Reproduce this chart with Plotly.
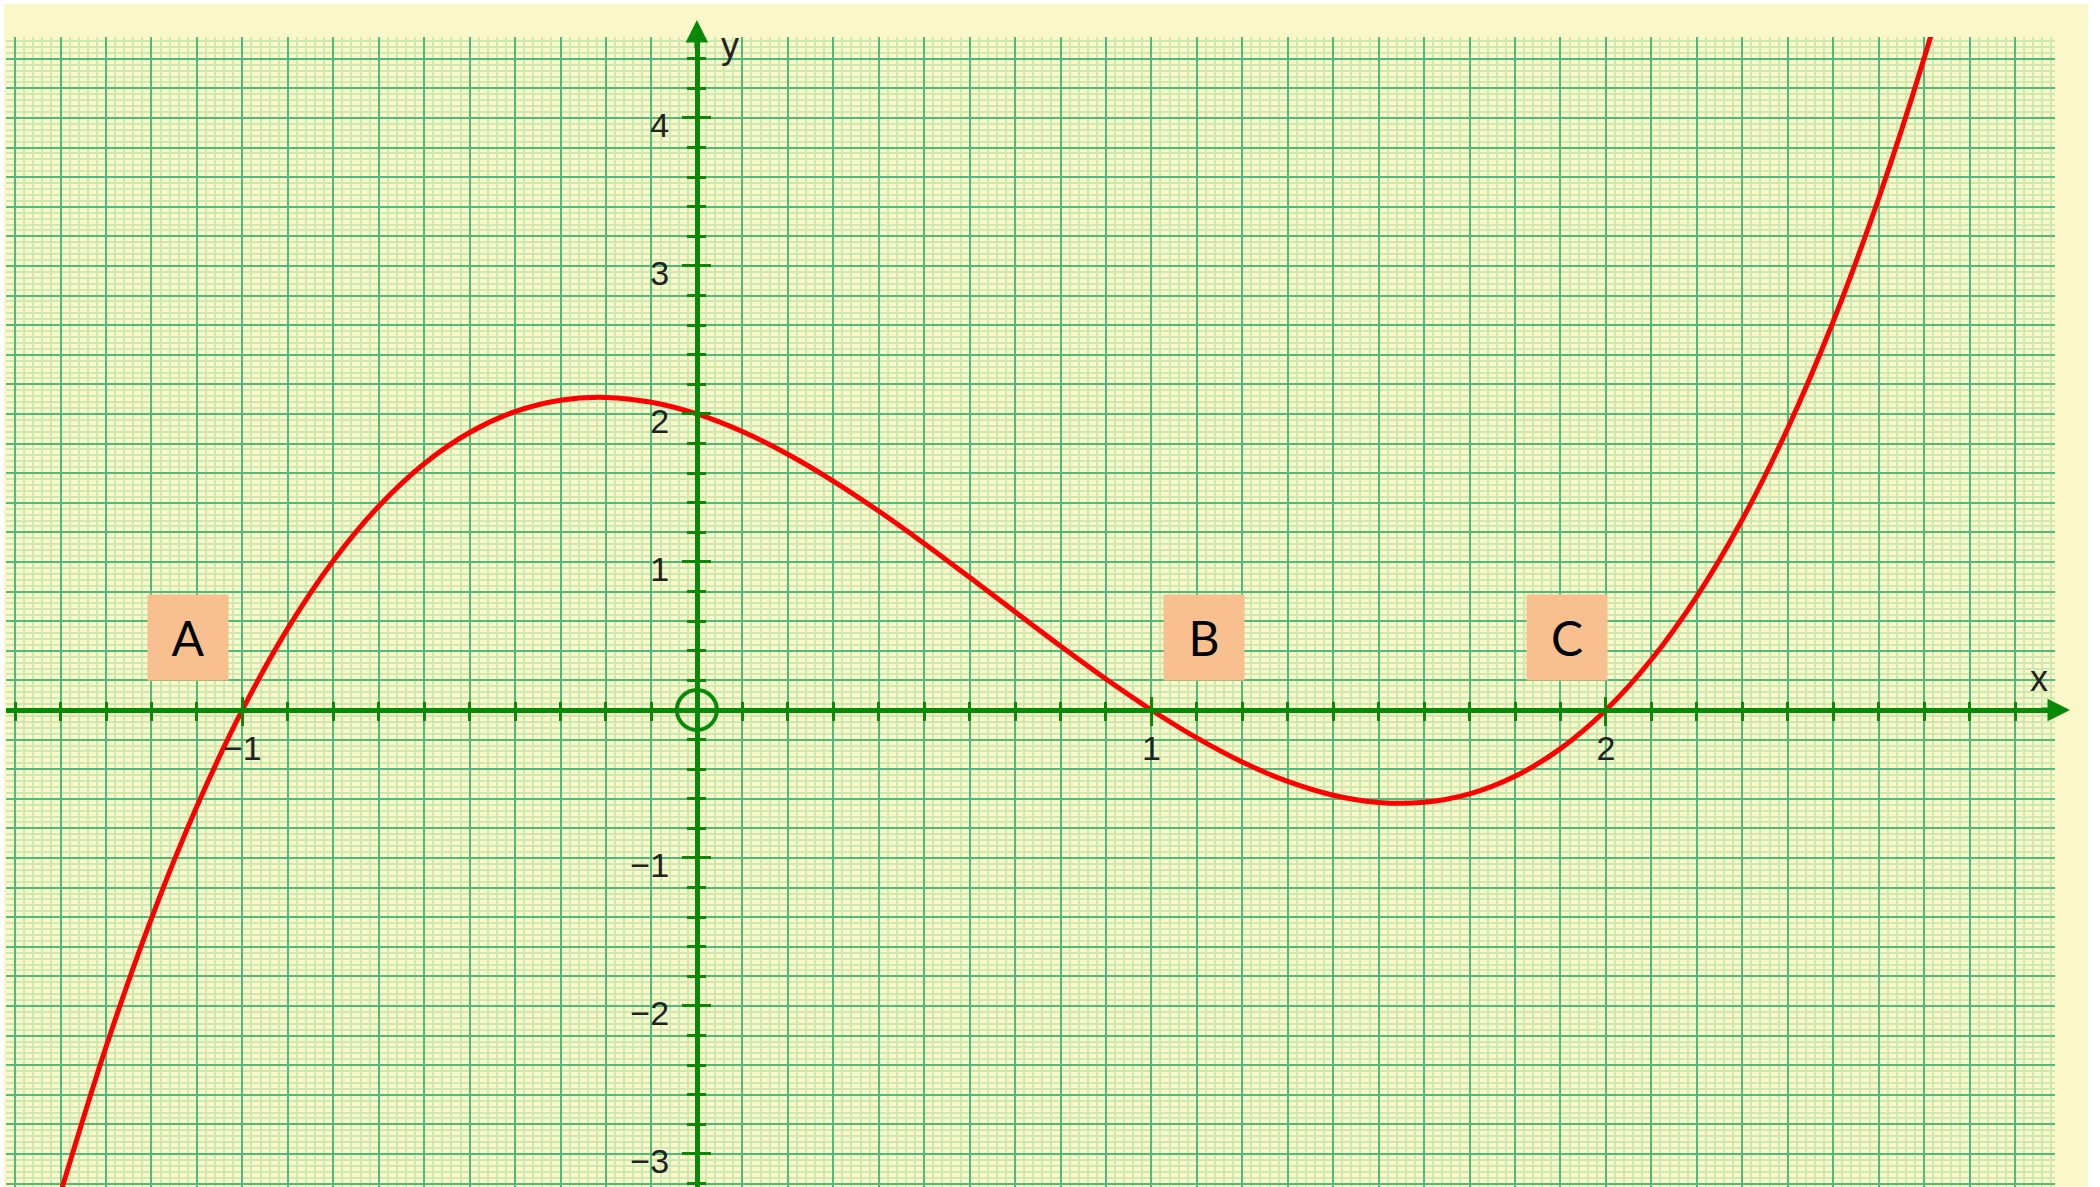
import plotly.graph_objects as go

# ── Data ──────────────────────────────────────────────────────────────────────
curve_x = [-1.4, -1.3, -1.2, -1.1, -1.0, -0.9, -0.8, -0.7, -0.6, -0.5, -0.4,
           -0.3, -0.2, -0.1, 0.0, 0.1, 0.2, 0.3, 0.4, 0.5, 0.6, 0.7, 0.8,
           0.9, 1.0, 1.1, 1.2, 1.3, 1.4, 1.5, 1.6, 1.7, 1.8, 1.9, 2.0,
           2.1, 2.2, 2.3, 2.4, 2.5, 2.6, 2.7, 2.8]
curve_y = [-3.264, -2.277, -1.408, -0.651, 0.0, 0.551, 1.008, 1.377, 1.664, 1.875, 2.016,
           2.093, 2.112, 2.079, 2.0, 1.881, 1.728, 1.547, 1.344, 1.125, 0.896, 0.663, 0.432,
           0.209, 0.0, -0.189, -0.352, -0.483, -0.576, -0.625, -0.624, -0.567, -0.448, -0.261, 0.0,
           0.341, 0.768, 1.287, 1.904, 2.625, 3.456, 4.403, 5.472]

origin_x = [0]
origin_y = [0]

point_names = ['A', 'B', 'C']
point_label_x = [-1.12, 1.115, 1.915]
point_label_y = [0.49, 0.49, 0.49]

x_range = [-1.520, 2.988]
y_range = [-3.223, 4.547]

# ── Styling ───────────────────────────────────────────────────────────────────
BG = '#faf8c8'
GRID = '#4dbb7a'
MINOR = '#cde8b0'
AXIS = '#088a08'
TXT = '#222222'
FONT = 'Liberation Sans, Arial, sans-serif'

W, H = 2100, 1187
M = dict(l=6, r=45, t=37, b=0)
pw = W - M['l'] - M['r']
ph = H - M['t'] - M['b']

# paper fraction where the zero lines sit
px0 = (0 - x_range[0]) / (x_range[1] - x_range[0])
py0 = (0 - y_range[0]) / (y_range[1] - y_range[0])

fig = go.Figure()

fig.add_trace(go.Scatter(
    x=curve_x, y=curve_y, mode='lines',
    line=dict(color='#ff0000', width=5, shape='spline', smoothing=1.0),
    showlegend=False, hoverinfo='skip',
))

fig.add_trace(go.Scatter(
    x=origin_x, y=origin_y, mode='markers',
    marker=dict(size=40, color=AXIS, symbol='circle-open',
                line=dict(color=AXIS, width=4)),
    showlegend=False, hoverinfo='skip',
))

# dummy traces so the overlay (axis-through-origin) axes are drawn
for xa, ya in [('x2', 'y'), ('x3', 'y'), ('x', 'y2'), ('x', 'y3')]:
    fig.add_trace(go.Scatter(x=[None], y=[None], xaxis=xa, yaxis=ya,
                             showlegend=False, hoverinfo='skip'))

grid_common = dict(showticklabels=False, ticks='', zeroline=False,
                   showline=False, showgrid=True, gridcolor=GRID, gridwidth=2)

tick_common = dict(tickmode='linear', tick0=0, dtick=1,
                   tickwidth=3, tickcolor=AXIS, ticklen=13,
                   showgrid=False, zeroline=False,
                   tickfont=dict(family=FONT, size=34, color=TXT),
                   labelalias={'0': ''})

fig.update_layout(
    width=W, height=H, margin=M,
    paper_bgcolor='white', plot_bgcolor=BG,
    xaxis=dict(range=x_range, tick0=0, dtick=0.1,
               minor=dict(dtick=0.02, showgrid=True, gridcolor=MINOR, gridwidth=2),
               **grid_common),
    yaxis=dict(range=y_range, tick0=0, dtick=0.2,
               minor=dict(dtick=0.04, showgrid=True, gridcolor=MINOR, gridwidth=2),
               **grid_common),
    xaxis2=dict(range=x_range, overlaying='x', anchor='free', position=py0,
                side='bottom', showline=True, linecolor=AXIS, linewidth=5,
                ticks='outside', ticklabelstandoff=-7,
                minor=dict(ticks='outside', dtick=0.1, tick0=0, ticklen=8,
                           tickwidth=3, tickcolor=AXIS),
                **tick_common),
    xaxis3=dict(range=x_range, overlaying='x', anchor='free', position=py0,
                side='bottom', showline=False, ticks='inside', showticklabels=False,
                minor=dict(ticks='inside', dtick=0.1, tick0=0, ticklen=8,
                           tickwidth=3, tickcolor=AXIS),
                **tick_common),
    yaxis2=dict(range=y_range, overlaying='y', anchor='free', position=px0,
                side='left', showline=True, linecolor=AXIS, linewidth=5,
                ticks='outside', ticklabelstandoff=6, ticklabelshift=7,
                minor=dict(ticks='outside', dtick=0.2, tick0=0, ticklen=8,
                           tickwidth=3, tickcolor=AXIS),
                **tick_common),
    yaxis3=dict(range=y_range, overlaying='y', anchor='free', position=px0,
                side='left', showline=False, ticks='inside', showticklabels=False,
                minor=dict(ticks='inside', dtick=0.2, tick0=0, ticklen=8,
                           tickwidth=3, tickcolor=AXIS),
                **tick_common),
)

# yellow sheet behind the graph paper (thin white strip at top/right edges)
fig.add_shape(type='rect', xref='paper', yref='paper',
              x0=(4 - M['l']) / pw, x1=(2088 - M['l']) / pw,
              y0=0, y1=1 + (M['t'] - 4) / ph,
              fillcolor=BG, line=dict(width=0), layer='below')

# axis arrows
fig.add_annotation(xref='x', yref='paper', x=0, y=1 + 17 / ph,
                   ax=0, ay=30, text='', showarrow=True,
                   arrowhead=2, arrowsize=0.9, arrowwidth=5, arrowcolor=AXIS)
fig.add_annotation(xref='paper', yref='y', x=1 + 15 / pw, y=0,
                   ax=-30, ay=0, text='', showarrow=True,
                   arrowhead=2, arrowsize=0.9, arrowwidth=5, arrowcolor=AXIS)

# axis names
fig.add_annotation(xref='x', yref='y', x=0.073, y=4.49, text='y', showarrow=False,
                   font=dict(family=FONT, size=36, color=TXT))
fig.add_annotation(xref='x', yref='y', x=2.953, y=0.21, text='x', showarrow=False,
                   font=dict(family=FONT, size=36, color=TXT))

# root labels
for name, lx, ly in zip(point_names, point_label_x, point_label_y):
    fig.add_annotation(xref='x', yref='y', x=lx, y=ly, text=name, showarrow=False,
                       width=80, height=85, bgcolor='#f8c08e', borderpad=0,
                       font=dict(family='Lato, sans-serif', size=48, color='black'))

# page body margin off so the figure sits flush at the window corner
fig.write_html("out.html", config={'displayModeBar': False},
               post_script="document.body.style.margin='0';")
